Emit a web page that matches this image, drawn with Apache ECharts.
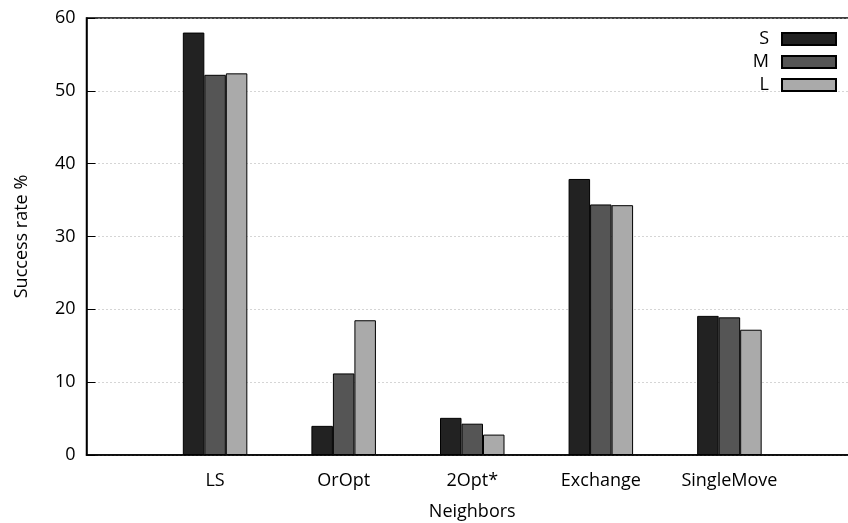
<!DOCTYPE html>
<html>
<head>
<meta charset="utf-8">
<script src="https://cdn.jsdelivr.net/npm/echarts@6/dist/echarts.min.js"></script>
<style>
html,body{margin:0;padding:0;background:#fff;}
#chart{width:848px;height:523px;}
</style>
</head>
<body>
<div id="chart"></div>
<script>
// Categories (padded with blank slots at both ends, as in the original layout)
const categories = ['', 'LS', 'OrOpt', '2Opt*', 'Exchange', 'SingleMove', ''];
const seriesNames = ['S', 'M', 'L'];
const valuesS = [null, 58.0, 4.0, 5.1, 37.9, 19.1, null];
const valuesM = [null, 52.2, 11.2, 4.3, 34.4, 18.9, null];
const valuesL = [null, 52.4, 18.5, 2.8, 34.3, 17.2, null];
const yTicks = { min: 0, max: 60, interval: 10 };
const colors = ['#222222', '#555555', '#aaaaaa'];

const FONT = 'Open Sans';
const FS = 18;
const chart = echarts.init(document.getElementById('chart'), null, { renderer: 'canvas' });
const allValues = [valuesS, valuesM, valuesL];

chart.setOption({
  animation: false,
  backgroundColor: '#fff',
  textStyle: { fontFamily: FONT, color: '#000' },
  grid: {
    left: 86.5, top: 18, right: -10, bottom: 68,
    outerBoundsMode: 'none',
    show: true, borderColor: '#000', borderWidth: 1.5, containLabel: false
  },
  legend: {
    orient: 'vertical',
    right: 11, top: 30,
    padding: 0,
    align: 'right',
    itemWidth: 54, itemHeight: 12, itemGap: 5,
    icon: 'rect',
    selectedMode: false,
    textStyle: { fontFamily: FONT, fontSize: FS, color: '#000', width: 16, align: 'right', padding: [0, 8, 0, 0] },
    data: seriesNames
  },
  xAxis: {
    type: 'category',
    data: categories,
    boundaryGap: false,
    axisLine: { show: true, lineStyle: { color: '#000', width: 1.5 } },
    axisTick: { show: false },
    axisLabel: { fontFamily: FONT, fontSize: FS, color: '#000', margin: 17, interval: 0 },
    splitLine: { show: false },
    name: 'Neighbors',
    nameLocation: 'middle',
    nameGap: 48,
    nameTextStyle: { fontFamily: FONT, fontSize: FS, color: '#000' }
  },
  yAxis: {
    type: 'value',
    min: yTicks.min, max: yTicks.max, interval: yTicks.interval,
    axisLine: { show: true, lineStyle: { color: '#000', width: 1.5 } },
    axisTick: { show: true, inside: true, length: 9, lineStyle: { color: '#000', width: 1 } },
    axisLabel: { fontFamily: FONT, fontSize: FS, color: '#000', margin: 11 },
    splitLine: { show: true, lineStyle: { color: '#aaa', width: 1, type: [1, 3] } },
    name: 'Success rate %',
    nameLocation: 'middle',
    nameGap: 56,
    nameTextStyle: { fontFamily: FONT, fontSize: FS, color: '#000' }
  },
  series: seriesNames.map((n, i) => ({
    name: n,
    type: 'bar',
    data: allValues[i],
    barWidth: 21.5,
    barGap: '0%',
    itemStyle: { color: colors[i], borderColor: '#000', borderWidth: 1 }
  }))
});
</script>
</body>
</html>
